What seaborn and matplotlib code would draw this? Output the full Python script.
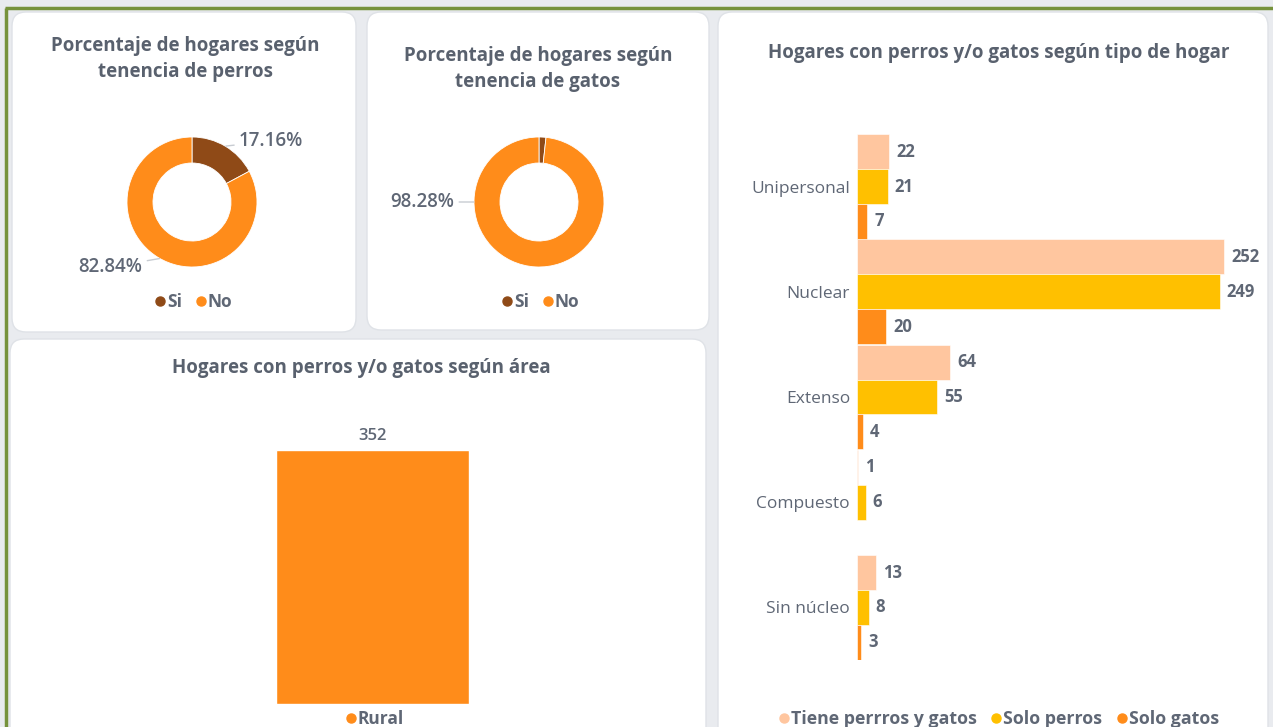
import matplotlib
matplotlib.use("Agg")
import matplotlib.pyplot as plt
from matplotlib.patches import FancyBboxPatch
from matplotlib.lines import Line2D
import seaborn as sns
import pandas as pd

# ---------------- data ----------------
dog_labels = ["Si", "No"]
dog_values = [17.16, 82.84]
cat_labels = ["Si", "No"]
cat_values = [1.72, 98.28]
area_categories = ["Rural"]
area_values = [352]
hogar_types = ["Unipersonal", "Nuclear", "Extenso", "Compuesto", "Sin núcleo"]
series_names = ["Tiene perrros y gatos", "Solo perros", "Solo gatos"]
tiene_ambos = [22, 252, 64, 1, 13]
solo_perros = [21, 249, 55, 6, 8]
solo_gatos = [7, 20, 4, None, 3]

# ---------------- style ----------------
sns.set_theme(style="white")
plt.rcParams['font.family'] = ['Open Sans', 'DejaVu Sans']

BROWN = '#8f4a17'
ORANGE = '#ff8c1a'
PEACH = '#ffc69f'
YELLOW = '#ffc000'
TITLE_C = '#59616e'
TEXT_C = '#5f6775'
BG = '#e9ebef'

W, H = 1273, 727
fig = plt.figure(figsize=(W / 100, H / 100), dpi=100)
fig.patch.set_facecolor(BG)

bg = fig.add_axes([0, 0, 1, 1], zorder=-10)
bg.set_xlim(0, W)
bg.set_ylim(H, 0)
bg.axis('off')
for (x0, y0, x1, y1) in [(12, 12, 356, 332), (367, 12, 709, 330),
                         (10, 339, 706, 745), (718, 12, 1268, 745)]:
    bg.add_patch(FancyBboxPatch((x0, y0), x1 - x0, y1 - y0,
                                boxstyle="round,pad=0,rounding_size=14",
                                fc='white', ec='#dfe2e7', lw=1))
bg.plot([5, W], [8, 8], color='#76923c', lw=2.5, solid_capstyle='butt')
bg.plot([6, 6], [8, H], color='#76923c', lw=2.5, solid_capstyle='butt')


def px_axes(x0, y0, x1, y1):
    return fig.add_axes([x0 / W, 1 - y1 / H, (x1 - x0) / W, (y1 - y0) / H])


def title(x, y, s):
    bg.text(x, y, s, ha='center', va='center', fontsize=13.5,
            fontweight='bold', color=TITLE_C)


def dot_legend(cx, cy, labels, colors, size=12, bold=True, spacing=0.6):
    handles = [Line2D([], [], marker='o', ls='', color=c, markersize=6.5)
               for c in colors]
    fig.legend(handles, labels, loc='center', bbox_to_anchor=(cx / W, 1 - cy / H),
               ncol=len(labels), frameon=False, handletextpad=-0.2,
               columnspacing=spacing, handlelength=1.2,
               prop=dict(size=size, weight='bold' if bold else 'normal'),
               labelcolor=TEXT_C)


# ---------------- donuts ----------------
def donut(cx, cy, r, values):
    ax = px_axes(cx - r, cy - r, cx + r, cy + r)
    ax.pie(values, colors=[BROWN, ORANGE], startangle=90, counterclock=False,
           radius=1, wedgeprops=dict(width=0.40, edgecolor='white', linewidth=0.6))
    ax.set_xlim(-1, 1)
    ax.set_ylim(-1, 1)
    return ax


PCT = dict(fontsize=13.5, color=TEXT_C, fontweight='semibold')
LEAD = dict(arrowstyle='-', color='#c8ccd2', lw=1, shrinkA=1, shrinkB=0)

R = 65
ax1 = donut(192, 202, R, dog_values)
title(185, 46, "Porcentaje de hogares según")
title(185, 72, "tenencia de perros")
ax1.annotate(f"{dog_values[0]:.2f}%", xy=(0.52, 0.86), xytext=(0.72, 0.94),
             ha='left', va='center', arrowprops=LEAD, **PCT)
ax1.annotate(f"{dog_values[1]:.2f}%", xy=(-0.5, -0.87), xytext=(-0.76, -1.0),
             ha='right', va='center', arrowprops=LEAD, **PCT)
dot_legend(191, 302, dog_labels, [BROWN, ORANGE], size=12.5, spacing=0.5)

ax2 = donut(539, 202, R, cat_values)
title(538, 56, "Porcentaje de hogares según")
title(538, 82, "tenencia de gatos")
ax2.annotate(f"{cat_values[1]:.2f}%", xy=(-1.0, 0.0), xytext=(-1.3, 0.0),
             ha='right', va='center', arrowprops=LEAD, **PCT)
dot_legend(538, 302, cat_labels, [BROWN, ORANGE], size=12.5, spacing=0.5)

# ---------------- area bar ----------------
title(361, 368, "Hogares con perros y/o gatos según área")
ax3 = px_axes(80, 450, 665, 704)
df_area = pd.DataFrame({'area': area_categories, 'hogares': area_values})
sns.barplot(data=df_area, x='area', y='hogares', color=ORANGE, saturation=1,
            width=193 / 585, ax=ax3, errorbar=None)
ax3.set_xlim(-0.5, 0.5)
ax3.set_ylim(0, 352)
ax3.bar_label(ax3.containers[0], padding=4, fontsize=12, color=TEXT_C,
              fontweight='semibold')
ax3.axis('off')
dot_legend(372, 719, area_categories, [ORANGE], size=12.5)

# ---------------- household type bars ----------------
title(999, 53, "Hogares con perros y/o gatos según tipo de hogar")
rows = []
for i, h in enumerate(hogar_types):
    for s, vals in zip(series_names, [tiene_ambos, solo_perros, solo_gatos]):
        if vals[i] is not None:
            rows.append({'tipo': h, 'serie': s, 'n': vals[i]})
df = pd.DataFrame(rows)

ax4 = px_axes(857, 134, 1265, 660)
sns.barplot(data=df, y='tipo', x='n', hue='serie', order=hogar_types,
            hue_order=series_names, palette=[PEACH, YELLOW, ORANGE],
            saturation=1, width=0.995, orient='h', ax=ax4, errorbar=None,
            legend=False, edgecolor='white', linewidth=0.4)
ax4.set_xlim(0, 280)
ax4.set_ylim(len(hogar_types) - 0.5, -0.5)
for c in ax4.containers:
    ax4.bar_label(c, padding=5, fontsize=12, fontweight='bold', color=TEXT_C)
sns.despine(ax=ax4, left=True, bottom=True)
ax4.set_xticks([])
ax4.set_xlabel('')
ax4.set_ylabel('')
ax4.tick_params(axis='y', length=0, pad=5, labelsize=12.5, labelcolor=TEXT_C)
dot_legend(996, 719, series_names, [PEACH, YELLOW, ORANGE], size=12.8, spacing=0.5)

fig.savefig("out.png", dpi=100, facecolor=fig.get_facecolor())
